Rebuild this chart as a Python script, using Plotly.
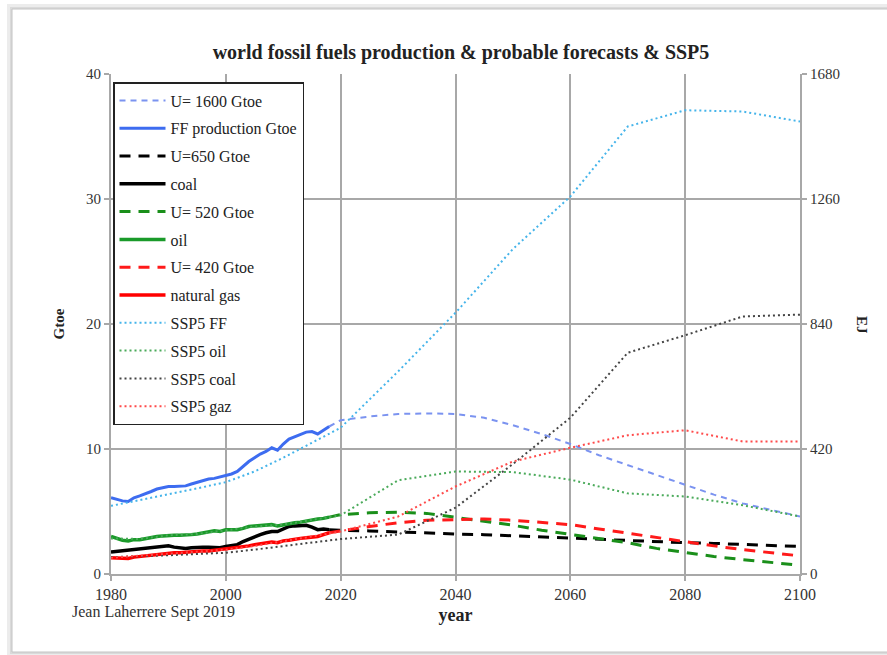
import plotly.graph_objects as go

# ---------------- data (Gtoe) ----------------
hist_years = list(range(1980, 2019))
ff_production = [6.1, 5.95, 5.85, 5.8, 6.1, 6.25, 6.4, 6.6, 6.8, 6.9,
                 7.0, 7.0, 7.0, 7.05, 7.2, 7.35, 7.5, 7.6, 7.65, 7.75,
                 7.9, 8.0, 8.2, 8.6, 9.0, 9.3, 9.6, 9.8, 10.1, 9.9,
                 10.4, 10.8, 11.0, 11.2, 11.35, 11.4, 11.2, 11.5, 11.8]
oil = [3.0, 2.85, 2.7, 2.65, 2.75, 2.75, 2.85, 2.9, 3.0, 3.05,
       3.1, 3.1, 3.1, 3.1, 3.15, 3.2, 3.3, 3.4, 3.45, 3.4,
       3.55, 3.55, 3.55, 3.65, 3.8, 3.85, 3.9, 3.9, 3.95, 3.85,
       3.95, 4.0, 4.1, 4.15, 4.25, 4.35, 4.4, 4.45, 4.55]
coal = [1.75, 1.8, 1.85, 1.9, 1.95, 2.05, 2.1, 2.15, 2.2, 2.25,
        2.25, 2.15, 2.1, 2.05, 2.1, 2.15, 2.15, 2.15, 2.1, 2.1,
        2.2, 2.3, 2.35, 2.6, 2.8, 3.0, 3.15, 3.3, 3.4, 3.4,
        3.6, 3.8, 3.85, 3.9, 3.9, 3.75, 3.55, 3.6, 3.55]
natural_gas = [1.3, 1.3, 1.25, 1.25, 1.35, 1.4, 1.45, 1.5, 1.55, 1.6,
               1.7, 1.7, 1.7, 1.75, 1.75, 1.8, 1.85, 1.85, 1.9, 1.95,
               2.0, 2.05, 2.1, 2.2, 2.25, 2.35, 2.4, 2.5, 2.55, 2.5,
               2.65, 2.7, 2.8, 2.85, 2.9, 2.95, 3.0, 3.15, 3.3]

fc_years = [2018, 2020, 2025, 2030, 2035, 2040, 2045, 2050, 2055, 2060,
            2065, 2070, 2075, 2080, 2085, 2090, 2095, 2100]
u1600 = [11.8, 12.3, 12.6, 12.8, 12.85, 12.8, 12.5, 11.9, 11.2, 10.4,
         9.5, 8.7, 7.9, 7.1, 6.35, 5.65, 5.1, 4.6]
u650 = [3.55, 3.5, 3.45, 3.35, 3.3, 3.2, 3.15, 3.05, 3.0, 2.9,
        2.8, 2.65, 2.55, 2.5, 2.45, 2.35, 2.3, 2.2]
u520 = [4.55, 4.75, 4.9, 4.95, 4.85, 4.55, 4.25, 3.9, 3.5, 3.15,
        2.85, 2.5, 2.05, 1.7, 1.4, 1.15, 0.9, 0.7]
u420 = [3.3, 3.45, 3.8, 4.1, 4.3, 4.35, 4.4, 4.3, 4.15, 3.95,
        3.6, 3.25, 2.9, 2.55, 2.25, 1.95, 1.7, 1.45]

ssp_years = [1980, 1985, 1990, 1995, 2000, 2005, 2010, 2015, 2020,
             2030, 2040, 2050, 2060, 2070, 2080, 2090, 2100]
ssp5_ff = [5.45, 5.9, 6.4, 6.85, 7.35, 8.2, 9.3, 10.5, 11.7,
           16.2, 20.9, 26.0, 30.2, 35.8, 37.1, 37.0, 36.2]
ssp5_oil = [2.85, 2.8, 3.1, 3.2, 3.5, 3.8, 3.95, 4.35, 4.7,
            7.5, 8.2, 8.15, 7.55, 6.45, 6.2, 5.5, 4.6]
ssp5_coal = [1.35, 1.4, 1.5, 1.6, 1.7, 1.95, 2.25, 2.55, 2.8,
             3.15, 5.3, 8.8, 12.5, 17.7, 19.1, 20.6, 20.75]
ssp5_gas = [1.3, 1.45, 1.6, 1.75, 1.95, 2.25, 2.6, 3.0, 3.4,
            4.6, 7.0, 9.0, 10.1, 11.1, 11.5, 10.6, 10.6]

x_ticks = [1980, 2000, 2020, 2040, 2060, 2080, 2100]
y_ticks = [0, 10, 20, 30, 40]
ej_ticks = [0, 420, 840, 1260, 1680]
GTOE_TO_EJ = 42

# ---------------- styles ----------------
SERIF = "Liberation Serif, Times New Roman, serif"
GRID = "#a8a8a8"
DASH_LONG = "11px,8px"
DOT = "2px,3px"

fig = go.Figure()


def add(name, x, y, color, width, dash="solid"):
    fig.add_trace(go.Scatter(
        x=x, y=y, name=name, mode="lines", legendgroup=name,
        line=dict(color=color, width=width, dash=dash),
    ))


add("U= 1600 Gtoe", fc_years, u1600, "#7b93f0", 2, "6px,5px")
add("FF production Gtoe", hist_years, ff_production, "#3d6cf0", 3)
add("U=650 Gtoe", fc_years, u650, "#000000", 3, DASH_LONG)
add("coal", hist_years, coal, "#000000", 3.5)
add("U= 520 Gtoe", fc_years, u520, "#1a8f1a", 3, DASH_LONG)
add("oil", hist_years, oil, "#1a9a2a", 3.5)
add("U= 420 Gtoe", fc_years, u420, "#ff1a1a", 3, DASH_LONG)
add("natural gas", hist_years, natural_gas, "#ff0000", 3.5)
add("SSP5 FF", ssp_years, ssp5_ff, "#45b4ea", 2, DOT)
add("SSP5 oil", ssp_years, ssp5_oil, "#4aaa5a", 2, DOT)
add("SSP5 coal", ssp_years, ssp5_coal, "#444444", 2, DOT)
add("SSP5 gaz", ssp_years, ssp5_gas, "#ff4a4a", 2, DOT)

# secondary scale in EJ (same curve, converted, not shown)
fig.add_trace(go.Scatter(
    x=hist_years, y=[v * GTOE_TO_EJ for v in ff_production], yaxis="y2",
    mode="lines", line=dict(width=0), opacity=0, showlegend=False,
    hoverinfo="skip",
))

# ---------------- layout ----------------
L, R, T, B = 111, 87, 74, 81
W, H = 887, 655
pw, ph = W - L - R, H - T - B


def px_x(p):
    return (p - L) / pw


def px_y(p):
    return (H - B - p) / ph


def axis_style(size):
    return dict(
        showline=True, linecolor=GRID, linewidth=2,
        ticks="outside", ticklen=5, tickcolor=GRID, tickwidth=1.5,
        tickfont=dict(family=SERIF, size=size, color="#333333"),
        zeroline=False,
    )


fig.update_layout(
    width=W, height=H,
    margin=dict(l=L, r=R, t=T, b=B),
    paper_bgcolor="white", plot_bgcolor="white",
    font=dict(family=SERIF, color="#222222"),
    title=dict(
        text="<b>world fossil fuels production &amp; probable forecasts &amp; SSP5</b>",
        x=px_x(461), xref="paper", xanchor="center",
        y=1 - 52 / H, yanchor="middle",
        font=dict(family=SERIF, size=20, color="#222222"),
    ),
    xaxis=dict(
        range=[1980, 2100], tickvals=x_ticks, showgrid=True,
        gridcolor=GRID, gridwidth=2,
        title=dict(text="<b>year</b>", standoff=6,
                   font=dict(family=SERIF, size=18, color="#222222")),
        **axis_style(16),
    ),
    yaxis=dict(
        range=[0, 40], tickvals=y_ticks, showgrid=True,
        gridcolor=GRID, gridwidth=2,
        title=dict(text="<b>Gtoe</b>", standoff=18,
                   font=dict(family=SERIF, size=15, color="#222222")),
        **axis_style(15),
    ),
    yaxis2=dict(
        range=[0, 40 * GTOE_TO_EJ], tickvals=ej_ticks, overlaying="y",
        side="right", showgrid=False,
        **axis_style(15),
    ),
    legend=dict(
        x=px_x(113), y=px_y(82), xanchor="left", yanchor="top",
        bgcolor="white", bordercolor="#222222", borderwidth=1.5,
        font=dict(family=SERIF, size=16, color="#222222"),
        traceorder="grouped", tracegroupgap=4,
        itemwidth=46,
    ),
    showlegend=True,
)

# right-hand axis title, reading top to bottom
fig.add_annotation(
    text="<b>EJ</b>", xref="paper", yref="paper",
    x=px_x(862), y=px_y(325), xanchor="center", yanchor="middle",
    showarrow=False, textangle=90,
    font=dict(family=SERIF, size=15, color="#222222"),
)

# author credit under the axis
fig.add_annotation(
    text="Jean Laherrere Sept 2019", xref="paper", yref="paper",
    x=px_x(153), y=px_y(612), xanchor="center", yanchor="middle",
    showarrow=False,
    font=dict(family=SERIF, size=16, color="#333333"),
)

# page card with a soft shadow
for off, col, wd in [(3, "#ececec", 4), (1, "#dadada", 2)]:
    fig.add_shape(
        type="rect", xref="paper", yref="paper", layer="below",
        x0=px_x(12 - off), x1=px_x(980), y0=px_y(652 + off), y1=px_y(9 - off),
        line=dict(color=col, width=wd), fillcolor="rgba(0,0,0,0)",
    )
fig.add_shape(
    type="rect", xref="paper", yref="paper", layer="below",
    x0=px_x(12), x1=px_x(980), y0=px_y(652), y1=px_y(9),
    line=dict(color="#c4c4c4", width=1), fillcolor="rgba(0,0,0,0)",
)

fig.write_html("out.html")
